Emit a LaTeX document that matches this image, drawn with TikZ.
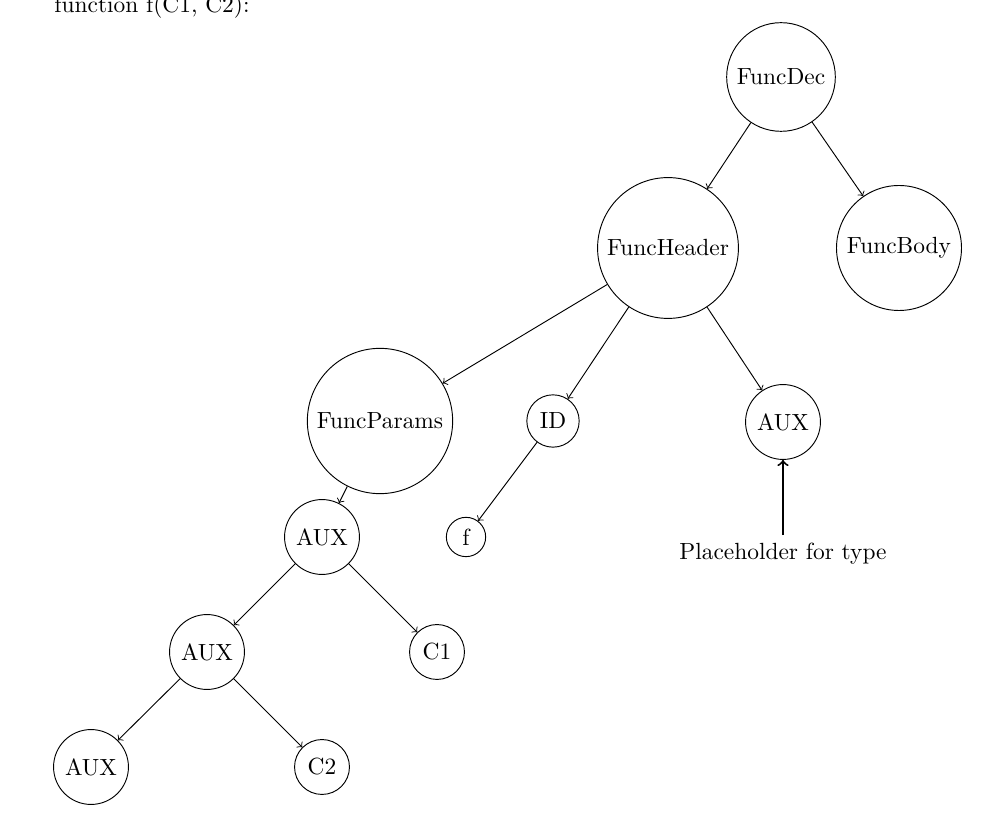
\documentclass[tikz,border=0pt]{standalone}
\begin{document}
\begin{tikzpicture}[x=0.4274pt,y=-0.4274pt,
  tn/.style={circle,draw},
  link/.style={->},
  note/.style={->,thick}]
\useasboundingbox (0,0) rectangle (996,816);

% heading
\node[anchor=base] (title) at (152,13) {function f(C1, C2):};

% syntax tree nodes
\node[tn] (dec)    at (781,77)  {FuncDec};
\node[tn] (header) at (668,248) {FuncHeader};
\node[tn] (body)   at (899,248) {FuncBody};
\node[tn] (params) at (380,421) {FuncParams};
\node[tn] (id)     at (553,421) {ID};
\node[tn] (type)   at (783,422) {AUX};
\node[tn] (f)      at (466,537) {f};
\node[tn] (auxa)   at (322,537) {AUX};
\node[tn] (auxb)   at (207,652) {AUX};
\node[tn] (c1)     at (437,652) {C1};
\node[tn] (auxc)   at (91,767)  {AUX};
\node[tn] (c2)     at (322,767) {C2};

% annotation
\node (ph) at (783,554) {Placeholder for type};

% edges
\draw[link] (dec) -- (header);
\draw[link] (dec) -- (body);
\draw[link] (header) -- (params);
\draw[link] (header) -- (id);
\draw[link] (header) -- (type);
\draw[link] (id) -- (f);
\draw[link] (params) -- (auxa);
\draw[link] (auxa) -- (auxb);
\draw[link] (auxa) -- (c1);
\draw[link] (auxb) -- (auxc);
\draw[link] (auxb) -- (c2);
\draw[note] (ph) -- (type);
\end{tikzpicture}
\end{document}
